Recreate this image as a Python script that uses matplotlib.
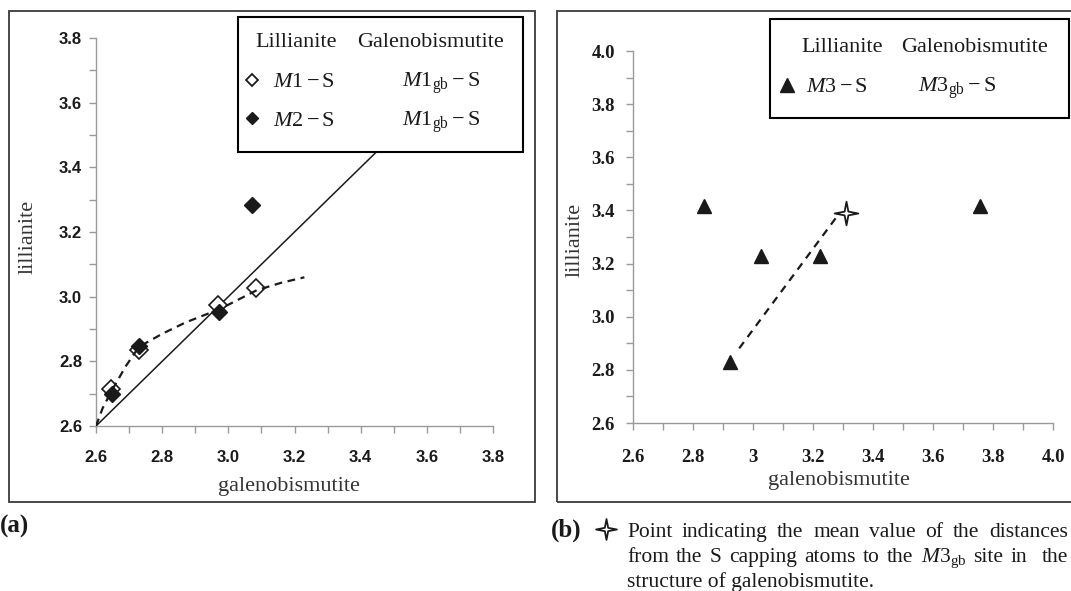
import numpy as np
import matplotlib.pyplot as plt
from matplotlib.patches import Rectangle
from matplotlib.lines import Line2D
from matplotlib.path import Path
from matplotlib.ticker import FixedLocator

plt.rcParams['font.family'] = ['Liberation Serif', 'DejaVu Serif']
plt.rcParams['mathtext.fontset'] = 'custom'
plt.rcParams['mathtext.rm'] = 'Liberation Serif'
plt.rcParams['mathtext.it'] = 'Liberation Serif:italic'
plt.rcParams['mathtext.bf'] = 'Liberation Serif:bold'

# ---- data, panel (a) ----
gb_m1 = [2.645, 2.730, 2.968, 3.085]
lil_m1 = [2.715, 2.835, 2.975, 3.027]
gb_m2 = [2.647, 2.731, 2.972, 3.072]
lil_m2 = [2.700, 2.847, 2.954, 3.283]
trend_gb = [2.60, 2.62, 2.648, 2.69, 2.73, 2.80, 2.87, 2.975, 3.086, 3.16, 3.23]
trend_lil = [2.60, 2.655, 2.71, 2.785, 2.845, 2.885, 2.92, 2.962, 3.02, 3.043, 3.06]
diag = [2.6, 3.8]
ticks_a = [2.6, 2.8, 3.0, 3.2, 3.4, 3.6, 3.8]
minor_a = [2.7, 2.9, 3.1, 3.3, 3.5, 3.7]
labels_a = ['2.6', '2.8', '3.0', '3.2', '3.4', '3.6', '3.8']

# ---- data, panel (b) ----
gb_m3 = [2.835, 2.922, 3.028, 3.222, 3.757]
lil_m3 = [3.415, 2.830, 3.228, 3.228, 3.415]
star_gb = [3.31]
star_lil = [3.39]
dash_gb = [2.954, 3.279]
dash_lil = [2.881, 3.376]
xticks_b = [2.6, 2.8, 3.0, 3.2, 3.4, 3.6, 3.8, 4.0]
xlabels_b = ['2.6', '2.8', '3', '3.2', '3.4', '3.6', '3.8', '4.0']
yticks_b = [2.6, 2.8, 3.0, 3.2, 3.4, 3.6, 3.8, 4.0]
ylabels_b = ['2.6', '2.8', '3.0', '3.2', '3.4', '3.6', '3.8', '4.0']
minor_b = [2.7, 2.9, 3.1, 3.3, 3.5, 3.7, 3.9]

W, H = 1071, 591
fig = plt.figure(figsize=(W / 100, H / 100), dpi=100)


def fx(px):
    return px / W


def fy(py):
    return 1 - py / H


# four-point star marker
r = 0.16
star = Path([(0, 1), (r, r), (1, 0), (r, -r), (0, -1), (-r, -r), (-1, 0), (-r, r), (0, 1)],
            [Path.MOVETO] + [Path.LINETO] * 7 + [Path.CLOSEPOLY])

ink = '#1a1a1a'
gray = '#9a9a9a'

# outer frames
for x0, x1 in [(9, 535), (557, 1085)]:
    fig.add_artist(Rectangle((fx(x0), fy(502)), (x1 - x0) / W, (502 - 11) / H, fill=False,
                             ec='#3a3a3a', lw=1.3, transform=fig.transFigure, zorder=0))


def style(ax):
    ax.set_facecolor('none')
    for s in ['top', 'right']:
        ax.spines[s].set_visible(False)
    for s in ['left', 'bottom']:
        ax.spines[s].set_color(gray)
        ax.spines[s].set_linewidth(1)
    ax.tick_params(which='both', colors=gray, length=5, width=1, direction='out')


# ---- panel (a) ----
axa = fig.add_axes([fx(96), fy(426), (493 - 96) / W, (426 - 38) / H])
style(axa)
axa.set_xlim(2.6, 3.8)
axa.set_ylim(2.6, 3.8)
axa.xaxis.set_major_locator(FixedLocator(ticks_a))
axa.yaxis.set_major_locator(FixedLocator(ticks_a))
axa.xaxis.set_minor_locator(FixedLocator(minor_a))
axa.yaxis.set_minor_locator(FixedLocator(minor_a))
axa.set_xticklabels(labels_a, fontfamily='Liberation Sans', fontweight='bold', fontsize=12, color=ink)
axa.set_yticklabels(labels_a, fontfamily='Liberation Sans', fontweight='bold', fontsize=12, color=ink)
axa.tick_params(axis='x', which='major', pad=12)
axa.tick_params(axis='y', which='major', pad=5)

axa.plot(diag, diag, color=ink, lw=1.1, zorder=2)
axa.plot(gb_m1, lil_m1, 'D', ms=9, mfc='white', mec=ink, mew=1.2, ls='none', zorder=3)
axa.plot(trend_gb, trend_lil, color=ink, lw=1.6, ls=(0, (3.5, 2.5)), zorder=4)
axa.plot(gb_m2, lil_m2, 'D', ms=8.5, mfc=ink, mec=ink, mew=1, ls='none', zorder=5)

fig.text(fx(289), fy(487), 'galenobismutite', fontsize=16, color='#333333', ha='center', va='center')
fig.text(fx(28), fy(237), 'lillianite', fontsize=16, color='#333333', ha='center', va='center', rotation=90)

# legend (a)
fig.add_artist(Rectangle((fx(238), fy(152)), (523 - 238) / W, (152 - 17) / H, fc='white',
                         ec='black', lw=1.5, transform=fig.transFigure, zorder=5))
fig.text(fx(296), fy(47), 'Lillianite', fontsize=16, color=ink, ha='center', va='baseline', zorder=6)
fig.text(fx(431), fy(47), 'Galenobismutite', fontsize=16, color=ink, ha='center', va='baseline', zorder=6)
fig.add_artist(Line2D([fx(252)], [fy(80)], marker='D', ms=6.5, mfc='white', mec=ink, mew=1.3,
                      transform=fig.transFigure, zorder=6))
fig.add_artist(Line2D([fx(252)], [fy(118)], marker='D', ms=6.5, mfc=ink, mec=ink,
                      transform=fig.transFigure, zorder=6))
fig.text(fx(273), fy(87), r'$M1 - \mathrm{S}$', fontsize=16, color=ink, ha='left', va='baseline', zorder=6)
fig.text(fx(273), fy(126), r'$M2 - \mathrm{S}$', fontsize=16, color=ink, ha='left', va='baseline', zorder=6)
fig.text(fx(402), fy(87), r'$M1_{\mathrm{gb}} - \mathrm{S}$', fontsize=16, color=ink, ha='left', va='baseline', zorder=6)
fig.text(fx(402), fy(126), r'$M1_{\mathrm{gb}} - \mathrm{S}$', fontsize=16, color=ink, ha='left', va='baseline', zorder=6)

fig.text(fx(0), fy(533), '(a)', fontsize=18, fontweight='bold', color=ink, ha='left', va='baseline')

# ---- panel (b) ----
axb = fig.add_axes([fx(633), fy(423), (1053 - 633) / W, (423 - 51) / H])
style(axb)
axb.set_xlim(2.6, 4.0)
axb.set_ylim(2.6, 4.0)
axb.xaxis.set_major_locator(FixedLocator(xticks_b))
axb.yaxis.set_major_locator(FixedLocator(yticks_b))
axb.xaxis.set_minor_locator(FixedLocator(minor_b))
axb.yaxis.set_minor_locator(FixedLocator(minor_b))
axb.set_xticklabels(xlabels_b, fontweight='bold', fontsize=13.5, color=ink)
axb.set_yticklabels(ylabels_b, fontweight='bold', fontsize=13.5, color=ink)
axb.tick_params(axis='x', which='major', pad=14)
axb.tick_params(axis='y', which='major', pad=8)

axb.plot(dash_gb, dash_lil, color=ink, lw=1.6, ls=(0, (3.5, 2.8)), zorder=2)
axb.plot(gb_m3, lil_m3, '^', ms=10.5, mfc=ink, mec=ink, ls='none', zorder=3, clip_on=False)
axb.plot(star_gb, star_lil, marker=star, ms=17, mfc='white', mec=ink, mew=1.3, ls='none', zorder=4)

fig.text(fx(839), fy(480), 'galenobismutite', fontsize=16, color='#333333', ha='center', va='center')
fig.text(fx(575), fy(240), 'lillianite', fontsize=16, color='#333333', ha='center', va='center', rotation=90)

# legend (b)
fig.add_artist(Rectangle((fx(770), fy(118)), (1069 - 770) / W, (118 - 19) / H, fc='white',
                         ec='black', lw=1.5, transform=fig.transFigure, zorder=5))
fig.text(fx(842), fy(52), 'Lillianite', fontsize=16, color=ink, ha='center', va='baseline', zorder=6)
fig.text(fx(975), fy(52), 'Galenobismutite', fontsize=16, color=ink, ha='center', va='baseline', zorder=6)
fig.add_artist(Line2D([fx(787)], [fy(85)], marker='^', ms=10, mfc=ink, mec=ink,
                      transform=fig.transFigure, zorder=6))
fig.text(fx(806), fy(92), r'$M3 - \mathrm{S}$', fontsize=16, color=ink, ha='left', va='baseline', zorder=6)
fig.text(fx(918), fy(92), r'$M3_{\mathrm{gb}} - \mathrm{S}$', fontsize=16, color=ink, ha='left', va='baseline', zorder=6)

# caption (b)
fig.text(fx(551), fy(537), '(b)', fontsize=18, fontweight='bold', color=ink, ha='left', va='baseline')
fig.add_artist(Line2D([fx(606)], [fy(529)], marker=star, ms=15, mfc='white', mec=ink, mew=1.3,
                      transform=fig.transFigure))

renderer = fig.canvas.get_renderer()


def justify(words, x0, x1, y, fs=15.5):
    ts = [fig.text(fx(x0), fy(y), w, fontsize=fs, color=ink, ha='left', va='baseline') for w in words]
    ws = [t.get_window_extent(renderer).width for t in ts]
    gap = (x1 - x0 - sum(ws)) / (len(words) - 1)
    x = x0
    for t, w in zip(ts, ws):
        t.set_x(fx(x))
        x += w + gap


justify('Point indicating the mean value of the distances'.split(), 627, 1068, 537)
justify(['from', 'the', 'S', 'capping', 'atoms', 'to', 'the', r'$M3_{\mathrm{gb}}$', 'site', 'in', '', 'the'],
        627, 1068, 562)
fig.text(fx(627), fy(587), 'structure of galenobismutite.', fontsize=15.5, color=ink, ha='left', va='baseline')

fig.savefig('out.png', dpi=100)
